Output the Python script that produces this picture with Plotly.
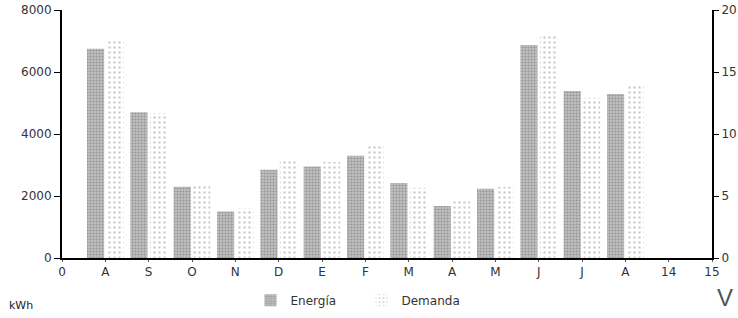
import plotly.graph_objects as go

months = ["A", "S", "O", "N", "D", "E", "F", "M", "A", "M", "J", "J", "A"]
positions = list(range(1, 14))
energia = [6750, 4700, 2300, 1500, 2850, 2950, 3300, 2420, 1680, 2230, 6870, 5390, 5290]
demanda = [7030, 4680, 2380, 1600, 3150, 3100, 3650, 2270, 1850, 2300, 7200, 5160, 5550]
x_tickvals = list(range(0, 16))
x_ticktext = ["0"] + months + ["14", "15"]
y_left_ticks = [0, 2000, 4000, 6000, 8000]
y_right_ticks = [0, 5, 10, 15, 20]

FONT = "DejaVu Sans"
TXT = "#333333"

fig = go.Figure()
fig.add_trace(go.Bar(
    x=positions, y=energia, name="Energía",
    marker=dict(color="#b0b0b0", line=dict(width=0),
                pattern=dict(shape=".", fgcolor="#6a6a6a", bgcolor="#c0c0c0", size=3, solidity=0.4)),
))
fig.add_trace(go.Bar(
    x=positions, y=demanda, name="Demanda",
    marker=dict(color="white", line=dict(width=0),
                pattern=dict(shape=".", fgcolor="#a0a0a0", bgcolor="white", size=5, solidity=0.2)),
))
# invisible trace to anchor the right axis
fig.add_trace(go.Scatter(x=[0], y=[0], yaxis="y2", mode="markers",
                         marker=dict(opacity=0), showlegend=False, hoverinfo="skip"))

fig.update_layout(
    width=738, height=318,
    margin=dict(l=62, r=26, t=10, b=60, autoexpand=False),
    paper_bgcolor="white", plot_bgcolor="white",
    font=dict(family=FONT, size=12, color=TXT),
    barmode="group", bargap=0.1, bargroupgap=0.12,
    showlegend=True,
    legend=dict(orientation="h", x=0.29, y=-0.17, xanchor="left", yanchor="middle",
                font=dict(family=FONT, size=12, color=TXT), itemwidth=30,
                entrywidth=66, entrywidthmode="pixels",
                bgcolor="rgba(0,0,0,0)"),
    xaxis=dict(range=[0, 15], tickmode="array", tickvals=x_tickvals, ticktext=x_ticktext,
               automargin=False,
               showgrid=False, zeroline=False, showline=True, linecolor="black", linewidth=2,
               ticks="outside", ticklen=2, tickcolor="#555", tickfont=dict(size=12, color=TXT)),
    yaxis=dict(range=[0, 8000], tickmode="array", tickvals=y_left_ticks, automargin=False,
               showgrid=False, zeroline=False, showline=True, linecolor="black", linewidth=2,
               ticks="outside", ticklen=6, tickcolor="black", tickfont=dict(size=12, color=TXT)),
    yaxis2=dict(range=[0, 20], overlaying="y", side="right", tickmode="array", tickvals=y_right_ticks,
                automargin=False,
                showgrid=False, zeroline=False, showline=True, linecolor="black", linewidth=2,
                ticks="outside", ticklen=5, tickcolor="black", tickfont=dict(size=12, color=TXT)),
    annotations=[
        dict(text="kWh", xref="paper", yref="paper", x=-0.085, y=-0.19, xanchor="left", yanchor="middle",
             showarrow=False, font=dict(family=FONT, size=11, color="#222")),
        dict(text="V", xref="paper", yref="paper", x=1.005, y=-0.16, xanchor="left", yanchor="middle",
             showarrow=False, font=dict(family="Liberation Sans", size=24, color="#555")),
    ],
)

fig.write_html("out.html", config={"displayModeBar": False},
               post_script="document.body.style.margin='0px';document.body.style.padding='0px';")
